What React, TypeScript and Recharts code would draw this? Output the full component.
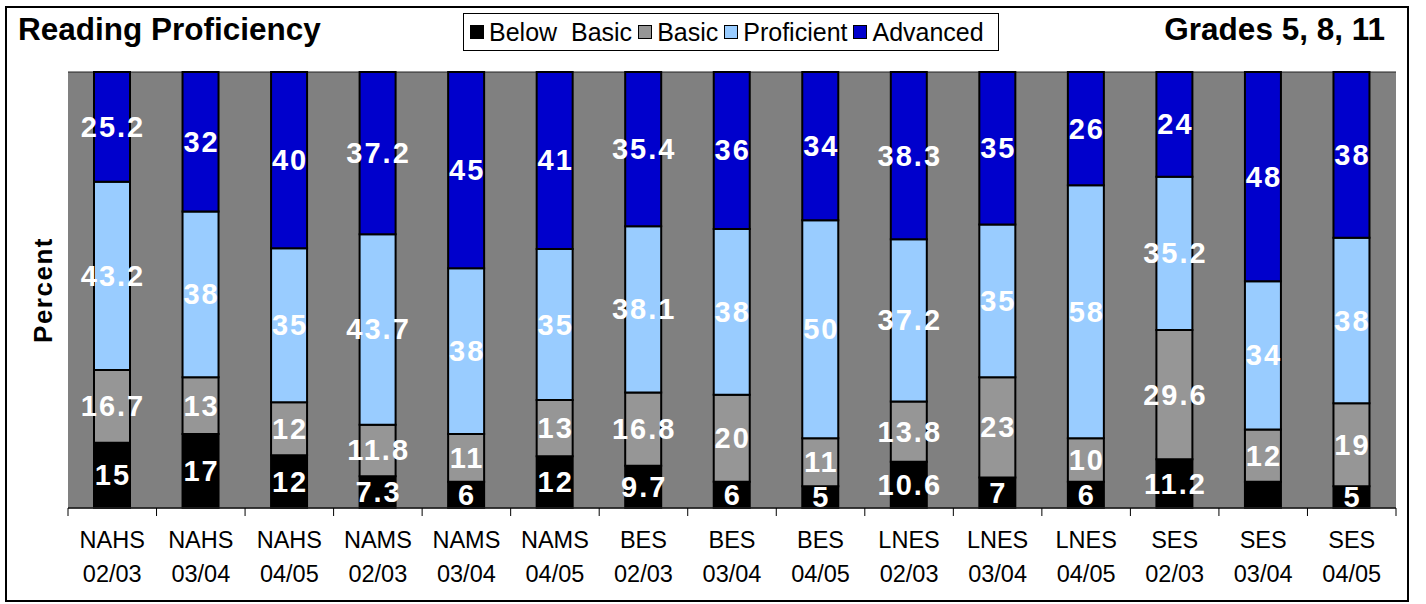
import React from "react";
import {
  BarChart,
  Bar,
  XAxis,
  YAxis,
  CartesianGrid,
  LabelList,
} from "recharts";

// Schools and years, one entry per bar
const SCHOOLS = [
  "NAHS", "NAHS", "NAHS", "NAMS", "NAMS", "NAMS", "BES", "BES",
  "BES", "LNES", "LNES", "LNES", "SES", "SES", "SES",
];
const YEARS = [
  "02/03", "03/04", "04/05", "02/03", "03/04", "04/05", "02/03", "03/04",
  "04/05", "02/03", "03/04", "04/05", "02/03", "03/04", "04/05",
];

const BELOW_BASIC = [15, 17, 12, 7.3, 6, 12, 9.7, 6, 5, 10.6, 7, 6, 11.2, 6, 5];
const BASIC = [16.7, 13, 12, 11.8, 11, 13, 16.8, 20, 11, 13.8, 23, 10, 29.6, 12, 19];
const PROFICIENT = [43.2, 38, 35, 43.7, 38, 35, 38.1, 38, 50, 37.2, 35, 58, 35.2, 34, 38];
const ADVANCED = [25.2, 32, 40, 37.2, 45, 41, 35.4, 36, 34, 38.3, 35, 26, 24, 48, 38];

// the original leaves the SES 03/04 "below basic" segment unlabelled
const BELOW_BASIC_LABELS = ["15", "17", "12", "7.3", "6", "12", "9.7", "6", "5", "10.6", "7", "6", "11.2", "", "5"];

const Y_TICKS = [0, 0.1, 0.2, 0.3, 0.4, 0.5, 0.6, 0.7, 0.8, 0.9, 1];

const SERIES = [
  { key: "below", name: "Below  Basic", color: "#000000" },
  { key: "basic", name: "Basic", color: "#969696" },
  { key: "proficient", name: "Proficient", color: "#99CCFF" },
  { key: "advanced", name: "Advanced", color: "#0000CC" },
];

const data = SCHOOLS.map((s, i) => ({
  name: `${s} ${YEARS[i]}`,
  below: BELOW_BASIC[i],
  belowLabel: BELOW_BASIC_LABELS[i],
  basic: BASIC[i],
  proficient: PROFICIENT[i],
  advanced: ADVANCED[i],
}));

const FONT = 'Arial, "Liberation Sans", sans-serif';
const PLOT_W = 1328;
const BAND = PLOT_W / SCHOOLS.length;

const renderLabel = (props: any) => {
  const { x, y, width, height, value } = props;
  if (value === "" || value == null) return null;
  return (
    <text
      x={x + width / 2 + 1}
      y={y + height / 2}
      textAnchor="middle"
      dominantBaseline="central"
      fill="#ffffff"
      fontFamily={FONT}
      fontWeight="bold"
      fontSize={29}
      letterSpacing={2}
    >
      {value}
    </text>
  );
};

const XTick = (props: any) => {
  const { x, y, payload, index } = props;
  const [school, year] = String(payload.value).split(" ");
  return (
    <g>
      <line x1={x - BAND / 2} y1={y - 8} x2={x - BAND / 2} y2={y} stroke="#000" strokeWidth={1} />
      {index === SCHOOLS.length - 1 && (
        <line x1={x + BAND / 2} y1={y - 8} x2={x + BAND / 2} y2={y} stroke="#000" strokeWidth={1} />
      )}
      <text x={x} y={y + 32} textAnchor="middle" fontFamily={FONT} fontSize={23.5} fill="#000">
        {school}
      </text>
      <text x={x} y={y + 66} textAnchor="middle" fontFamily={FONT} fontSize={23.5} fill="#000">
        {year}
      </text>
    </g>
  );
};

export default function App() {
  return (
    <div
      style={{
        position: "absolute",
        left: 5,
        top: 6,
        width: 1400,
        height: 592,
        border: "2px solid #000",
        background: "#fff",
        fontFamily: FONT,
      }}
    >
      <div
        style={{
          position: "absolute",
          left: 11,
          top: 5,
          fontSize: 31.5,
          lineHeight: "32px",
          fontWeight: "bold",
        }}
      >
        Reading Proficiency
      </div>
      <div
        style={{
          position: "absolute",
          right: 22,
          top: 5,
          fontSize: 31.5,
          lineHeight: "32px",
          fontWeight: "bold",
        }}
      >
        Grades 5, 8, 11
      </div>

      {/* legend box */}
      <div
        style={{
          position: "absolute",
          left: 456,
          top: 5,
          width: 528,
          height: 36,
          border: "1px solid #000",
          display: "flex",
          alignItems: "center",
          paddingLeft: 6,
          boxSizing: "content-box",
          fontSize: 25,
          whiteSpace: "pre",
        }}
      >
        {SERIES.map((s) => (
          <span key={s.key} style={{ display: "flex", alignItems: "center", marginRight: 6 }}>
            <span
              style={{
                display: "inline-block",
                width: 12,
                height: 12,
                background: s.color,
                border: "1px solid #000",
                marginRight: 5,
              }}
            />
            {s.name}
          </span>
        ))}
      </div>

      <BarChart
        width={1400}
        height={590}
        data={data}
        stackOffset="expand"
        barSize={36}
        margin={{ top: 64, right: 11, left: 11, bottom: 30 }}
      >
        <CartesianGrid vertical={false} stroke="#222" strokeWidth={1} fill="#808080" fillOpacity={1} />
        <XAxis
          dataKey="name"
          interval={0}
          height={60}
          tickLine={false}
          axisLine={{ stroke: "#222", strokeWidth: 1.5 }}
          tick={<XTick />}
        />
        <YAxis
          width={50}
          domain={[0, 1]}
          ticks={Y_TICKS}
          tick={false}
          tickLine={false}
          axisLine={false}
          label={{
            value: "Percent",
            angle: -90,
            position: "center",
            fontFamily: FONT,
            fontWeight: "bold",
            fontSize: 26,
            letterSpacing: 1.5,
            fill: "#000",
          }}
        />
        <Bar dataKey="below" stackId="a" fill="#000000" stroke="#000" strokeWidth={2} isAnimationActive={false}>
          <LabelList dataKey="belowLabel" content={renderLabel} />
        </Bar>
        <Bar dataKey="basic" stackId="a" fill="#969696" stroke="#000" strokeWidth={2} isAnimationActive={false}>
          <LabelList dataKey="basic" content={renderLabel} />
        </Bar>
        <Bar dataKey="proficient" stackId="a" fill="#99CCFF" stroke="#000" strokeWidth={2} isAnimationActive={false}>
          <LabelList dataKey="proficient" content={renderLabel} />
        </Bar>
        <Bar dataKey="advanced" stackId="a" fill="#0000CC" stroke="#000" strokeWidth={2} isAnimationActive={false}>
          <LabelList dataKey="advanced" content={renderLabel} />
        </Bar>
      </BarChart>
    </div>
  );
}
